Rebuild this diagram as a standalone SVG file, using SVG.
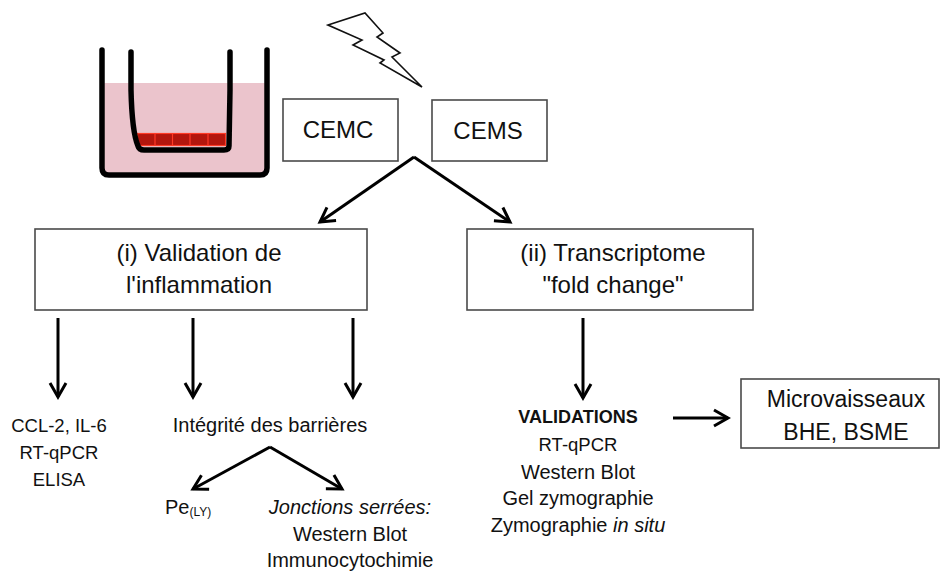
<svg xmlns="http://www.w3.org/2000/svg" width="942" height="572" viewBox="0 0 942 572">
  <style>
    .box { fill: #ffffff; stroke: #4a4a4a; stroke-width: 1.6; }
    .t { font-family: "Liberation Sans", Arial, sans-serif; fill: #111; text-anchor: middle; }
    .big { font-size: 24px; }
    .mid { font-size: 20px; }
    .caps { font-size: 18.5px; }
    .conn { stroke: #000; stroke-width: 3; fill: none; }
    .wall { fill: none; stroke: #050505; stroke-width: 5.5; stroke-linecap: round; stroke-linejoin: round; }
  </style>
  <defs>
    <marker id="head" viewBox="0 0 20 20" refX="17" refY="10" markerWidth="20" markerHeight="20" markerUnits="userSpaceOnUse" orient="auto">
      <path d="M3,2 L17,10 L3,18" fill="none" stroke="#000" stroke-width="3" stroke-linejoin="miter"/>
    </marker>
    <filter id="soft" x="-5%" y="-5%" width="110%" height="110%">
      <feGaussianBlur stdDeviation="0.6"/>
    </filter>
  </defs>

  <rect width="942" height="572" fill="#ffffff"/>

  <!-- culture well with insert -->
  <g id="well" filter="url(#soft)">
    <path d="M102,83 L267,83 L267,168 Q267,175 260,175 L109,175 Q102,175 102,168 Z" fill="#ebc4cc"/>
    <path class="wall" d="M102,50 L102,168 Q102,175 109,175 L260,175 Q267,175 267,168 L267,50"/>
    <g id="cells">
      <rect x="137" y="133" width="89" height="13" fill="#b3170f"/>
      <g stroke="#ff3a26" stroke-width="1.2" fill="none">
        <rect x="137.5" y="133.5" width="88" height="12"/>
        <line x1="155" y1="133" x2="155" y2="146"/>
        <line x1="172.5" y1="133" x2="172.5" y2="146"/>
        <line x1="190" y1="133" x2="190" y2="146"/>
        <line x1="208" y1="133" x2="208" y2="146"/>
      </g>
    </g>
    <path class="wall" d="M131,52 L131,90 Q132,132 138,146 Q139,150 144,150 L224,150 Q229,150 229,146 L230,90 L230,52"/>
  </g>

  <!-- lightning bolt -->
  <g id="stimulus">
    <polygon points="328,25 365,13 383,33 377,37 400,53 392,57 422,87 380,63 384,60 353,45 362,40" fill="#ffffff" stroke="#111" stroke-width="1.6" stroke-linejoin="miter"/>
  </g>

  <g id="cemc">
    <rect class="box" x="283" y="99" width="115" height="62"/>
    <text class="t" x="338" y="138" font-size="24">CEMC</text>
  </g>
  <g id="cems">
    <rect class="box" x="432" y="100" width="115" height="61"/>
    <text class="t" x="488" y="139" font-size="24">CEMS</text>
  </g>

  <g id="validation-inflammation">
    <rect class="box" x="35" y="229" width="332" height="81"/>
    <text class="t big" x="199" y="261">(i) Validation de</text>
    <text class="t big" x="199" y="293">l'inflammation</text>
  </g>

  <g id="transcriptome">
    <rect class="box" x="467" y="229" width="286" height="81"/>
    <text class="t big" x="613" y="261">(ii) Transcriptome</text>
    <text class="t big" x="613" y="293">"fold change"</text>
  </g>

  <g id="cytokines">
    <text class="t caps" x="59" y="432">CCL-2, IL-6</text>
    <text class="t caps" x="59" y="459">RT-qPCR</text>
    <text class="t caps" x="59" y="486">ELISA</text>
  </g>

  <g id="barrieres">
    <text class="t mid" x="270" y="432">Intégrité des barrières</text>
  </g>

  <g id="permeabilite">
    <text class="t" x="165" y="514" font-size="20" style="text-anchor:start">Pe<tspan font-size="12" dy="2">(LY)</tspan></text>
  </g>

  <g id="jonctions">
    <text class="t mid" x="350" y="514" font-style="italic">Jonctions serrées:</text>
    <text class="t mid" x="350" y="541">Western Blot</text>
    <text class="t mid" x="350" y="567">Immunocytochimie</text>
  </g>

  <g id="validations">
    <text class="t" x="578" y="423" font-size="18" font-weight="bold">VALIDATIONS</text>
    <text class="t caps" x="578" y="451">RT-qPCR</text>
    <text class="t mid" x="578" y="479">Western Blot</text>
    <text class="t mid" x="578" y="505">Gel zymographie</text>
    <text class="t mid" x="578" y="532">Zymographie <tspan font-style="italic">in situ</tspan></text>
  </g>

  <g id="microvaisseaux">
    <rect class="box" x="741" y="379" width="198" height="69"/>
    <text class="t" x="846" y="407" font-size="23">Microvaisseaux</text>
    <text class="t" x="846" y="440" font-size="23">BHE, BSME</text>
  </g>

  <!-- connectors -->
  <g id="connectors">
    <path class="conn" d="M414,157 L320,222" marker-end="url(#head)"/>
    <path class="conn" d="M414,157 L510,222" marker-end="url(#head)"/>
    <path class="conn" d="M58,318 L58,397" marker-end="url(#head)"/>
    <path class="conn" d="M193,318 L193,397" marker-end="url(#head)"/>
    <path class="conn" d="M353,318 L353,397" marker-end="url(#head)"/>
    <path class="conn" d="M583,318 L583,398" marker-end="url(#head)"/>
    <path class="conn" d="M270,447 L193,489" marker-end="url(#head)"/>
    <path class="conn" d="M270,447 L342,489" marker-end="url(#head)"/>
    <path class="conn" d="M673,418 L728,418" marker-end="url(#head)"/>
  </g>
</svg>
